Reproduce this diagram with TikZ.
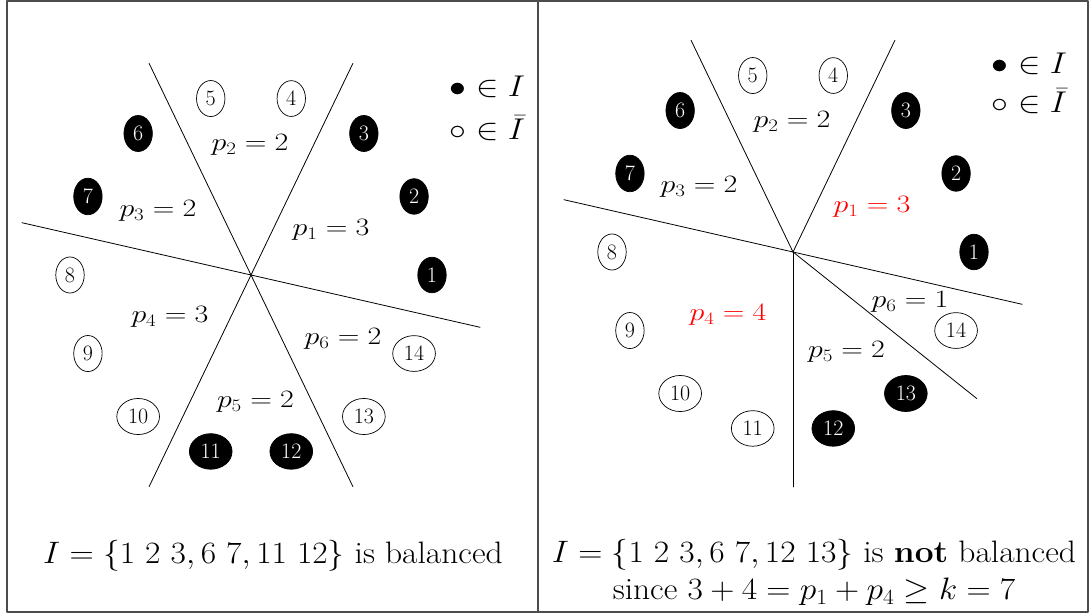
\RequirePackage{fix-cm}
\documentclass[tikz,border=0pt]{standalone}
\usetikzlibrary{shapes.geometric}
\begin{document}
\begin{tikzpicture}[x=1pt, y=1pt, line join=round, line cap=round,
    vtx/.style={ellipse, draw, line width=0.7pt, inner xsep=5pt, inner ysep=5.3pt, font=\fontsize{22}{22}\selectfont},
    inI/.style={vtx, fill=black, text=white},
    notI/.style={vtx, fill=white},
    lbl/.style={font=\fontsize{25}{25}\selectfont, xscale=1.2},
    legend/.style={font=\fontsize{30}{30}\selectfont, xscale=1.12, anchor=west},
    caption/.style={font=\fontsize{31}{37}\selectfont, xscale=1.08, align=center}]
  \def\r{181} \def\R{235}
  \useasboundingbox (0,0) rectangle (1091,614);
  \draw[black!70, line width=1.3pt] (7,2) rectangle (1088,613);
  \draw[black!70, line width=1.3pt] (538,2) -- (538,613);
  % left: balanced
  \begin{scope}[shift={(251,339)}]
    \foreach \a in {64.29,115.71,167.14}
      \draw[line width=0.8pt] (\a:\R) -- ({\a+180}:\R);
    \foreach \i in {1,2,3,6,7,11,12}
      \node[inI] (l\i) at ({(\i-1)*360/14}:\r) {\i};
    \foreach \i in {4,5,8,9,10,13,14}
      \node[notI] (l\i) at ({(\i-1)*360/14}:\r) {\i};
    \node[lbl] (lp1) at (80,45) {$p_1=3$};
    \node[lbl] (lp2) at (-1,130) {$p_2=2$};
    \node[lbl] (lp3) at (-93,64) {$p_3=2$};
    \node[lbl] (lp4) at (-81,-42) {$p_4=3$};
    \node[lbl] (lp5) at (4.5,-127) {$p_5=2$};
    \node[lbl] (lp6) at (92,-64) {$p_6=2$};
  \end{scope}
  \node[legend] (lin) at (446,527) {$\bullet\in I$};
  \node[legend] (lout) at (446,486) {$\circ\in\bar{I}$};
  \node[caption] (lcap) at (273,58) {$I=\{1\ 2\ 3, 6\ 7, 11\ 12\}$ is balanced};
  % right: not balanced
  \begin{scope}[shift={(793,362)}]
    \draw[line width=0.8pt] (167.14:\R) -- (-12.86:\R);
    \foreach \a in {64.29,115.71,270,321.43}
      \draw[line width=0.8pt] (0,0) -- (\a:\R);
    \foreach \i in {1,2,3,6,7,12,13}
      \node[inI] (r\i) at ({(\i-1)*360/14}:\r) {\i};
    \foreach \i in {4,5,8,9,10,11,14}
      \node[notI] (r\i) at ({(\i-1)*360/14}:\r) {\i};
    \node[lbl, text=red] (rp1) at (79,45) {$p_1=3$};
    \node[lbl] (rp2) at (-1,130) {$p_2=2$};
    \node[lbl] (rp3) at (-94,65) {$p_3=2$};
    \node[lbl, text=red] (rp4) at (-65,-63) {$p_4=4$};
    \node[lbl] (rp5) at (53.5,-100) {$p_5=2$};
    \node[lbl] (rp6) at (117,-50) {$p_6=1$};
  \end{scope}
  \node[legend] (rin) at (988,550) {$\bullet\in I$};
  \node[legend] (rout) at (988,513) {$\circ\in\bar{I}$};
  \node[caption] (rcap) at (814,41.5) {$I=\{1\ 2\ 3, 6\ 7, 12\ 13\}$ is \textbf{not} balanced\\
    since $3+4=p_1+p_4\geq k=7$};
\end{tikzpicture}
\end{document}
